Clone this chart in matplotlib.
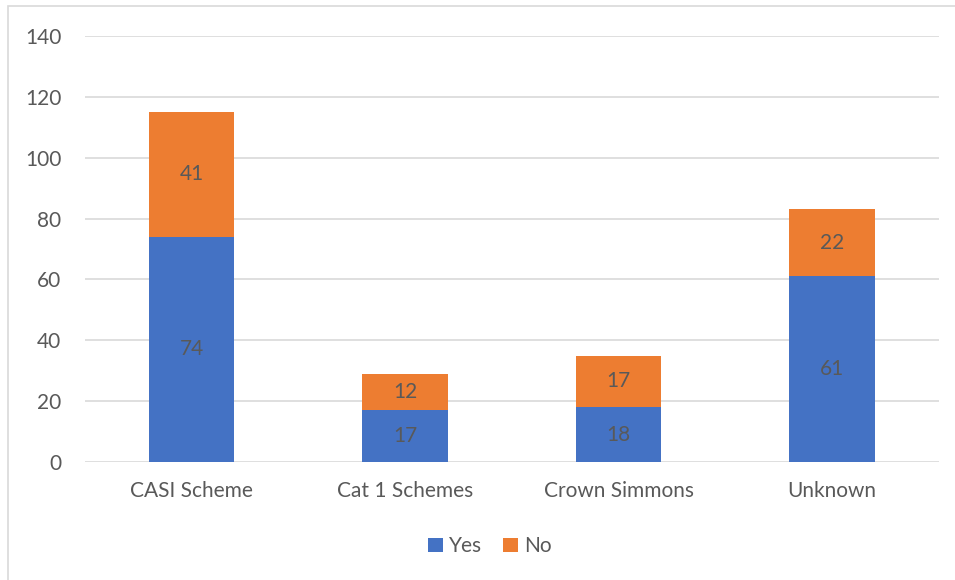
import matplotlib.pyplot as plt
import numpy as np
from matplotlib.patches import Rectangle

plt.rcParams['font.family'] = ['Lato', 'DejaVu Sans']

categories = ['CASI Scheme', 'Cat 1 Schemes', 'Crown Simmons', 'Unknown']
yes = [74, 17, 18, 61]
no = [41, 12, 17, 22]

blue = '#4472C4'
orange = '#ED7D31'
txt = '#595959'
fs = 15

fig = plt.figure(figsize=(9.55, 5.8), dpi=100)
ax = fig.add_axes([0.089, 0.2034, 0.894, 0.7345])

# chart area outline
fig.patches.append(Rectangle((0.0084, -0.1), 1.2, 1.0897, transform=fig.transFigure,
                             fill=False, edgecolor='#D9D9D9', linewidth=1.2))

x = np.arange(len(categories))
w = 0.40
b1 = ax.bar(x, yes, w, color=blue, label='Yes', zorder=3)
b2 = ax.bar(x, no, w, bottom=yes, color=orange, label='No', zorder=3)

for bars, vals, base in [(b1, yes, [0] * 4), (b2, no, yes)]:
    for rect, v, b in zip(bars, vals, base):
        ax.text(rect.get_x() + rect.get_width() / 2, b + v / 2, str(v),
                ha='center', va='center', color=txt, fontsize=fs, zorder=4)

ax.set_xlim(-0.5, 3.5)
ax.set_ylim(0, 140)
ax.set_yticks(range(0, 141, 20))
ax.set_xticks(x)
ax.set_xticklabels(categories)
ax.yaxis.grid(True, color='#D9D9D9', linewidth=1.2, zorder=0)
for s in ax.spines.values():
    s.set_visible(False)
ax.tick_params(length=0, labelsize=fs, colors=txt)
ax.tick_params(axis='x', pad=14)
ax.tick_params(axis='y', pad=17)

fig.legend(handles=[b1, b2], labels=['Yes', 'No'], loc='center', bbox_to_anchor=(0.513, 0.058),
           ncol=2, frameon=False, fontsize=fs, labelcolor=txt, handlelength=0.7,
           handleheight=0.7, handletextpad=0.3, columnspacing=1.0)

fig.savefig('out.png', dpi=100)
